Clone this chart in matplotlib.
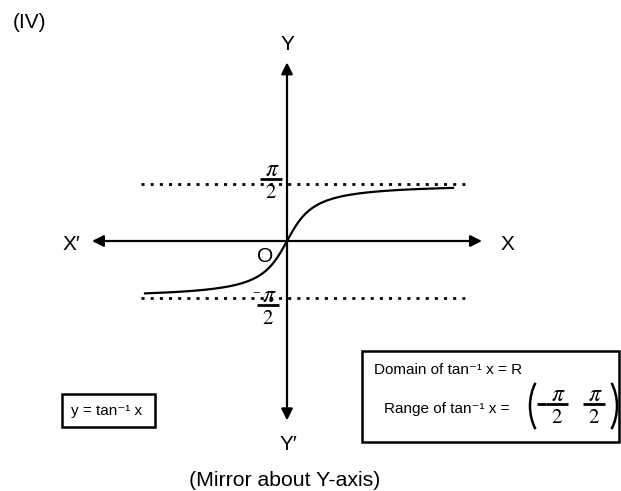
import numpy as np
import matplotlib
matplotlib.use('Agg')
import matplotlib.pyplot as plt
from matplotlib.patches import FancyArrowPatch, Rectangle, Arc

plt.rcParams['font.family'] = ['Liberation Sans', 'DejaVu Sans']
plt.rcParams['mathtext.fontset'] = 'stix'

# curve range (x values) and asymptote levels
x_start, x_end = -7.1, 8.3
asymptotes = [np.pi / 2, -np.pi / 2]
dash_x = [-7.3, 9.0]
x_axis = [-9.75, 9.75]
y_axis = [-4.9, 4.88]

W, H = 621, 491
fig = plt.figure(figsize=(W / 100, H / 100), dpi=100)
ax = fig.add_axes([0, 0, 1, 1])
# 20 px per x unit, 36.6 px per y unit, origin at pixel (287, 241)
ax.set_xlim(-287 / 20, (W - 287) / 20)
ax.set_ylim((241 - H) / 36.6, 241 / 36.6)
ax.axis('off')

def fx(px):
    return px / W

def fy(py):
    return 1 - py / H

def hline(x0, x1, y, lw=2.0):
    ax.plot([fx(x0), fx(x1)], [fy(y), fy(y)], color='black', lw=lw,
            transform=fig.transFigure, solid_capstyle='butt')

def pi_over_2(cx, bar_y, half=11, minus=False):
    # stacked fraction pi / 2 drawn as text + bar
    fig.text(fx(cx + 1), fy(bar_y - 9), r'$\pi$', fontsize=17, ha='center', va='center')
    fig.text(fx(cx), fy(bar_y + 14), '2', fontsize=15, family='STIXGeneral',
             ha='center', va='center')
    hline(cx - half, cx + half, bar_y)
    if minus:
        fig.text(fx(cx - 12), fy(bar_y - 14), '\u2212', fontsize=8, family='STIXGeneral',
                 ha='center', va='center')

# axes with arrows
for p0, p1 in [((x_axis[0], 0), (x_axis[1], 0)), ((0, y_axis[0]), (0, y_axis[1]))]:
    ax.add_patch(FancyArrowPatch(p0, p1, arrowstyle='<|-|>', mutation_scale=17,
                                 lw=1.6, color='black', shrinkA=0, shrinkB=0))

# asymptotes
for a in asymptotes:
    ax.plot(dash_x, [a, a], color='black', lw=2, linestyle=(0, (1.1, 2.2)))

# the curve
xs = np.linspace(x_start, x_end, 400)
ax.plot(xs, np.arctan(xs), color='black', lw=1.6)

# labels
fig.text(fx(13), fy(22), '(IV)', fontsize=15, va='center', ha='left')
fig.text(fx(287), fy(45), 'Y', fontsize=15, ha='center', va='center')
fig.text(fx(288), fy(445), "Y\u2032", fontsize=15, ha='center', va='center')
fig.text(fx(507), fy(244), 'X', fontsize=15, ha='center', va='center')
fig.text(fx(71), fy(244), "X\u2032", fontsize=15, ha='center', va='center')
fig.text(fx(265), fy(257), 'O', fontsize=15, ha='center', va='center')

pi_over_2(271, 179)
pi_over_2(268, 305, minus=True)

# small box
ax.add_patch(Rectangle((fx(62), fy(427)), (155 - 62) / W, (427 - 394) / H,
                       transform=fig.transFigure, fill=False, lw=1.8, color='black'))
fig.text(fx(107), fy(411), 'y = tan\u207b\u00b9 x', fontsize=11, ha='center', va='center')

# big box
ax.add_patch(Rectangle((fx(362), fy(442)), (619 - 362) / W, (442 - 351) / H,
                       transform=fig.transFigure, fill=False, lw=1.8, color='black'))
fig.text(fx(374), fy(370), 'Domain of tan\u207b\u00b9 x = R', fontsize=11, ha='left', va='center')
fig.text(fx(384), fy(409), 'Range of tan\u207b\u00b9 x =', fontsize=11, ha='left', va='center')

# large parentheses
ax.add_patch(Arc((fx(560), fy(406)), 60 / W, 80 / H, theta1=130, theta2=230,
                 transform=fig.transFigure, lw=1.8, color='black'))
ax.add_patch(Arc((fx(587), fy(406)), 60 / W, 80 / H, theta1=-50, theta2=50,
                 transform=fig.transFigure, lw=1.8, color='black'))
hline(537, 546, 404)
pi_over_2(557, 404)
pi_over_2(594, 404)

fig.text(fx(285), fy(480), '(Mirror about Y-axis)', fontsize=15.3, ha='center', va='center')

fig.savefig('out.png', dpi=100)
